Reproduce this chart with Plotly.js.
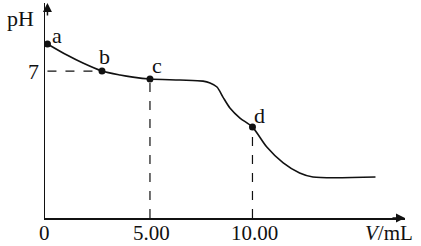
<!DOCTYPE html>
<html>
<head>
<meta charset="utf-8">
<script src="https://cdn.plot.ly/plotly-3.0.1.min.js"></script>
<style>html,body{margin:0;padding:0;background:#fff;}#chart{width:421px;height:246px;}</style>
</head>
<body>
<div id="chart"></div>
<script>
// Titration curve (V in mL, pH)
const volume = [0, 0.95, 1.73, 2.66, 3.54, 4.17, 5.0, 6.46, 7.59, 7.93, 8.27, 8.56, 8.90, 9.39, 10.0, 10.7, 11.5, 12.3, 12.95, 16.0];
const pHValues = [8.29, 7.76, 7.38, 7.0, 6.81, 6.71, 6.62, 6.57, 6.52, 6.43, 6.24, 5.76, 5.24, 4.76, 4.33, 3.38, 2.62, 2.14, 1.95, 1.95];

// Labelled points
const pointLabels = ['a', 'b', 'c', 'd'];
const pointV = [0, 2.66, 5.0, 10.0];
const pointPH = [8.29, 7.0, 6.62, 4.33];
const labelShiftX = [10, 3, 7, 7];
const labelShiftY = [8, 15, 14, 12];

// Tick labels
const xTickVals = [0, 5, 10];
const xTickText = ['0', '5.00', '10.00'];
const yTickVals = [7];
const yTickText = ['7'];

const xRange = [-0.12, 17.44];
const yRange = [0, 10.24];
const FONT = 'Liberation Serif, Times New Roman, serif';

const traces = [
  {x: volume, y: pHValues, mode: 'lines', line: {color: '#111', width: 1.6, shape: 'spline', smoothing: 0.8}, hoverinfo: 'skip'},
  {x: pointV, y: pointPH, mode: 'markers', marker: {color: '#111', size: 7}, cliponaxis: false}
];

// Dashed guide lines: b to the pH axis, c and d down to the V axis
const dash = {color: '#111', width: 1.2, dash: 'dash'};
const shapes = [
  {type: 'line', xref: 'x', yref: 'y', x0: 0, x1: pointV[1], y0: pointPH[1], y1: pointPH[1], line: dash},
  {type: 'line', xref: 'x', yref: 'y', x0: pointV[2], x1: pointV[2], y0: 0, y1: pointPH[2], line: dash},
  {type: 'line', xref: 'x', yref: 'y', x0: pointV[3], x1: pointV[3], y0: 0, y1: pointPH[3], line: dash}
];

const LABEL_Y = -0.07;
const annotations = [
  {x: xRange[1], y: 0, xref: 'x', yref: 'y', ax: -14, ay: 0, text: '', showarrow: true, arrowhead: 2, arrowsize: 1.2, arrowwidth: 1.5, arrowcolor: '#111', standoff: 0},
  {x: 0, y: yRange[1], xref: 'x', yref: 'y', ax: 0, ay: 14, text: '', showarrow: true, arrowhead: 2, arrowsize: 1.2, arrowwidth: 1.5, arrowcolor: '#111', standoff: 0},
  {x: 0.955, y: LABEL_Y, xref: 'paper', yref: 'paper', xanchor: 'center', yanchor: 'middle', text: '<i>V</i>/mL', showarrow: false, borderpad: 0, font: {family: FONT, size: 21, color: '#111'}},
  {x: -0.067, y: 0.93, xref: 'paper', yref: 'paper', xanchor: 'center', yanchor: 'middle', text: 'pH', showarrow: false, font: {family: FONT, size: 22, color: '#111'}}
];
pointLabels.forEach((t, i) => annotations.push({
  x: pointV[i], y: pointPH[i], xref: 'x', yref: 'y', text: t, showarrow: false,
  xanchor: 'center', yanchor: 'middle', xshift: labelShiftX[i], yshift: labelShiftY[i],
  font: {family: FONT, size: 22, color: '#111'}
}));
xTickVals.forEach((v, i) => annotations.push({
  x: v, y: LABEL_Y, xref: 'x', yref: 'paper', text: xTickText[i], showarrow: false, borderpad: 0,
  xanchor: 'center', yanchor: 'middle', xshift: i === 0 ? -3 : 2,
  font: {family: FONT, size: 21, color: '#111'}
}));

const layout = {
  width: 421, height: 246,
  margin: {l: 45, r: 16, t: 3, b: 28, pad: 0},
  paper_bgcolor: '#fff', plot_bgcolor: '#fff',
  showlegend: false,
  font: {family: FONT, size: 22, color: '#111'},
  xaxis: {range: xRange, showline: true, linecolor: '#111', linewidth: 1.5, showgrid: false, zeroline: false,
          showticklabels: false, ticks: '', fixedrange: true},
  yaxis: {range: yRange, showline: true, linecolor: '#111', linewidth: 1.5, showgrid: false, zeroline: false,
          tickvals: yTickVals, ticktext: yTickText, ticks: '', tickfont: {family: FONT, size: 22, color: '#111'}, fixedrange: true},
  shapes: shapes,
  annotations: annotations
};

Plotly.newPlot('chart', traces, layout, {displayModeBar: false, staticPlot: true});
</script>
</body>
</html>
